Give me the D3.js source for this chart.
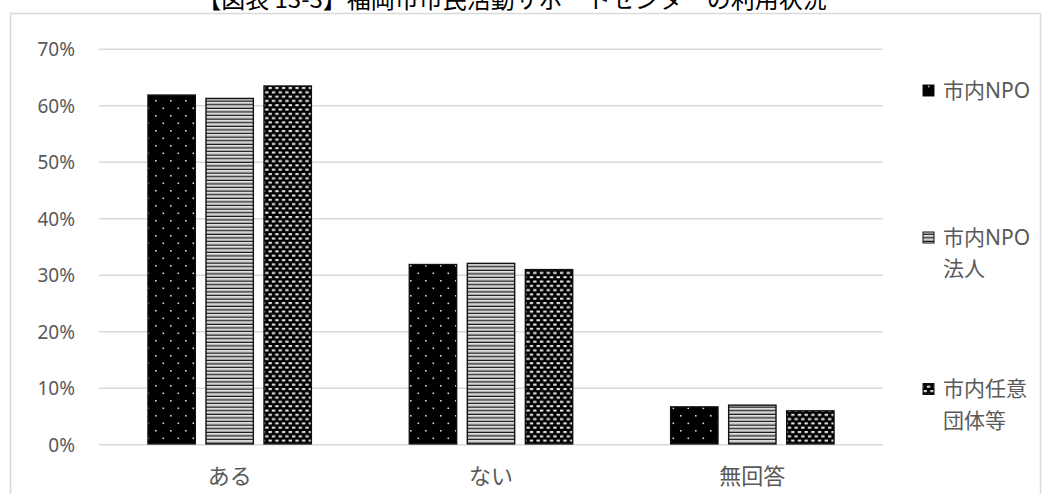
<!DOCTYPE html>
<html>
<head>
<meta charset="utf-8">
<script src="https://cdn.jsdelivr.net/npm/d3@7"></script>
<style>
  html, body { margin: 0; padding: 0; background: #fff; }
  svg { display: block; }
  text { font-family: "Noto Sans", "Noto Sans CJK JP", sans-serif; }
</style>
</head>
<body>
<svg id="chart" width="1051" height="494"></svg>
<script>
const titleText = "【図表 13-3】福岡市市民活動サポートセンターの利用状況";
const categories = ["ある", "ない", "無回答"];
const seriesNames = ["市内NPO", "市内NPO法人", "市内任意団体等"];
const legendLines = [["市内NPO"], ["市内NPO", "法人"], ["市内任意", "団体等"]];
const valuesNPO = [61.9, 31.9, 6.7];
const valuesNPOHojin = [61.3, 32.1, 7.0];
const valuesNinni = [63.5, 31.0, 6.0];
const yTicks = [0, 10, 20, 30, 40, 50, 60, 70];

const seriesValues = [valuesNPO, valuesNPOHojin, valuesNinni];

const svg = d3.select("#chart");
const defs = svg.append("defs");

// Pattern 1: black with white dots
const p1 = defs.append("pattern").attr("id", "pat0")
  .attr("patternUnits", "userSpaceOnUse").attr("width", 15).attr("height", 15)
  .attr("x", 5).attr("y", 2);
p1.append("rect").attr("width", 15).attr("height", 15).attr("fill", "#000");
p1.append("rect").attr("x", 7.5).attr("y", 0.5).attr("width", 1.6).attr("height", 1.6).attr("fill", "#d8d8d8");
p1.append("rect").attr("x", 0).attr("y", 8).attr("width", 1.6).attr("height", 1.6).attr("fill", "#d8d8d8");

// Pattern 2: horizontal stripes
const p2 = defs.append("pattern").attr("id", "pat1")
  .attr("patternUnits", "userSpaceOnUse").attr("width", 10).attr("height", 3.6);
p2.append("rect").attr("width", 10).attr("height", 3.6).attr("fill", "#9a9a9a");
p2.append("rect").attr("y", 0).attr("width", 10).attr("height", 1).attr("fill", "#111");
p2.append("rect").attr("y", 1).attr("width", 10).attr("height", 1.3).attr("fill", "#f4f4f4");

// Pattern 3: black with white dashes (checker)
const p3 = defs.append("pattern").attr("id", "pat2")
  .attr("patternUnits", "userSpaceOnUse").attr("width", 6.7).attr("height", 8.6);
p3.append("rect").attr("width", 6.7).attr("height", 8.6).attr("fill", "#000");
p3.append("rect").attr("x", 0.4).attr("y", 1).attr("width", 3.6).attr("height", 2.1).attr("rx", 0.6).attr("fill", "#e2e2e2");
p3.append("rect").attr("x", 3.75).attr("y", 5.3).attr("width", 3.6).attr("height", 2.1).attr("rx", 0.6).attr("fill", "#e2e2e2");
p3.append("rect").attr("x", -2.95).attr("y", 5.3).attr("width", 3.6).attr("height", 2.1).attr("rx", 0.6).attr("fill", "#e2e2e2");

// Frame
svg.append("rect").attr("x", 10.5).attr("y", 13.5).attr("width", 1030).attr("height", 500)
  .attr("fill", "none").attr("stroke", "#d9d9d9").attr("stroke-width", 1.5);

// Title (cut off at top)
svg.append("text").attr("x", 512).attr("y", 8).attr("text-anchor", "middle")
  .style("font-family", "'Noto Sans CJK JP', sans-serif")
  .attr("font-size", 24).attr("fill", "#000").text(titleText);

const x0 = d3.scaleBand().domain(categories).range([99, 883]).paddingInner(0).paddingOuter(0);
const x1 = d3.scaleBand().domain(seriesNames).range([-81.7, 81.7]).paddingInner(0.184).paddingOuter(0);
const y = d3.scaleLinear().domain([0, 70]).range([444.7, 49.3]);

// Gridlines
svg.append("g").selectAll("line").data(yTicks).join("line")
  .attr("x1", 99).attr("x2", 883)
  .attr("y1", d => y(d)).attr("y2", d => y(d))
  .attr("stroke", "#d9d9d9").attr("stroke-width", 1.5);

// Y axis labels
const yAxis = d3.axisLeft(y).tickValues(yTicks).tickFormat(d => d + "%").tickSize(0).tickPadding(0);
const gy = svg.append("g").attr("transform", "translate(75,0)").call(yAxis);
gy.select(".domain").remove();
gy.selectAll("text").attr("font-size", 19).attr("fill", "#595959")
  .style("font-family", "'Noto Sans', sans-serif").attr("dy", "0.35em");

// X axis labels
const xAxis = d3.axisBottom(x0).tickSize(0).tickPadding(0);
const gx = svg.append("g").attr("transform", "translate(0,476)").call(xAxis);
gx.select(".domain").remove();
gx.selectAll("text").attr("font-size", 22).attr("fill", "#595959")
  .style("font-family", "'Noto Sans CJK JP', sans-serif").attr("dy", "0.35em");

// Bars
const barData = [];
categories.forEach((c, ci) => {
  seriesNames.forEach((s, si) => {
    barData.push({ cat: c, series: s, si: si, value: seriesValues[si][ci] });
  });
});
svg.append("g").selectAll("rect").data(barData).join("rect")
  .attr("x", d => x0(d.cat) + x0.bandwidth() / 2 + x1(d.series))
  .attr("width", x1.bandwidth())
  .attr("y", d => y(d.value))
  .attr("height", d => y(0) - y(d.value) - 0.8)
  .attr("fill", d => `url(#pat${d.si})`)
  .attr("stroke", "#111").attr("stroke-width", 1.4);

// Legend
const legendY = [90.5, 237.5, 389];
const lg = svg.append("g").selectAll("g").data(seriesNames).join("g")
  .attr("transform", (d, i) => `translate(923,${legendY[i]})`);
lg.append("rect").attr("x", 0).attr("y", -5.5).attr("width", 11).attr("height", 11)
  .attr("fill", (d, i) => `url(#pat${i})`).attr("stroke", "#111").attr("stroke-width", 1);
lg.each(function(d, i) {
  const g = d3.select(this);
  legendLines[i].forEach((line, li) => {
    g.append("text").attr("x", 20).attr("y", li * 31.5).attr("dy", "0.35em")
      .attr("font-size", 21).attr("fill", "#595959")
      .text(line);
  });
});
</script>
</body>
</html>
